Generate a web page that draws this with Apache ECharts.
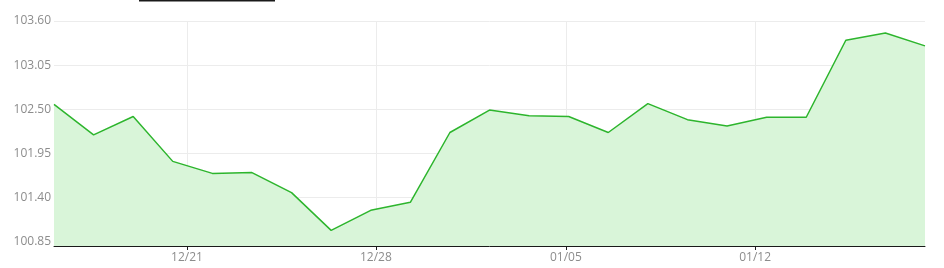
<!DOCTYPE html>
<html>
<head>
<meta charset="utf-8">
<script src="https://cdn.jsdelivr.net/npm/echarts@6/dist/echarts.min.js"></script>
<style>
html,body{margin:0;padding:0;background:#fff;}
#c{width:944px;height:268px;}
</style>
</head>
<body>
<div id="c"></div>
<script>
// Series values (one per point, evenly spaced)
var values = [102.56, 102.18, 102.41, 101.85, 101.70, 101.71, 101.46, 100.99, 101.24, 101.34,
              102.21, 102.49, 102.42, 102.41, 102.21, 102.57, 102.37, 102.29, 102.40, 102.40,
              103.36, 103.45, 103.29];
// X tick labels and where they fall along the point index
var xTickLabels = ['12/21', '12/28', '01/05', '01/12'];
var xTickIndex = [3.36, 8.13, 12.93, 17.71];
// Y tick labels
var yTicks = [100.85, 101.40, 101.95, 102.50, 103.05, 103.60];
var yMin = 100.795, yMax = 103.60;

var points = values.map(function (v, i) { return [i, v]; });

var chart = echarts.init(document.getElementById('c'), null, {renderer: 'canvas'});
chart.setOption({
  animation: false,
  backgroundColor: '#ffffff',
  textStyle: {fontFamily: 'Open Sans'},
  grid: {left: 54, right: 19, top: 21, bottom: 22, containLabel: false},
  graphic: [{
    type: 'rect', left: 139, top: 0,
    shape: {width: 136, height: 1.5},
    style: {fill: '#1a1a1a'}
  }],
  xAxis: {
    type: 'value',
    min: 0, max: values.length - 1,
    axisLine: {show: true, lineStyle: {color: '#1a1a1a', width: 1}},
    axisTick: {show: true, length: 4, lineStyle: {color: '#1a1a1a'}, customValues: xTickIndex},
    axisLabel: {
      customValues: xTickIndex,
      color: '#8c8c8c', fontSize: 12, margin: 6,
      formatter: function (val) {
        var k = xTickIndex.indexOf(val);
        return k >= 0 ? xTickLabels[k] : '';
      }
    },
    splitLine: {show: true, lineStyle: {color: '#ececec', width: 1}}
  },
  yAxis: {
    type: 'value',
    min: yMin, max: yMax,
    axisLine: {show: false},
    axisTick: {show: false, customValues: yTicks},
    axisLabel: {
      customValues: yTicks,
      color: '#8c8c8c', fontSize: 12, margin: 3,
      formatter: function (v) { return v.toFixed(2); }
    },
    splitLine: {show: true, lineStyle: {color: '#ececec', width: 1}}
  },
  series: [{
    type: 'line',
    data: points,
    symbol: 'none',
    lineStyle: {color: '#2db52d', width: 1.5},
    areaStyle: {color: '#d9f5d9', opacity: 1, origin: 'start'},
    itemStyle: {color: '#2db52d'}
  }]
});
</script>
</body>
</html>
